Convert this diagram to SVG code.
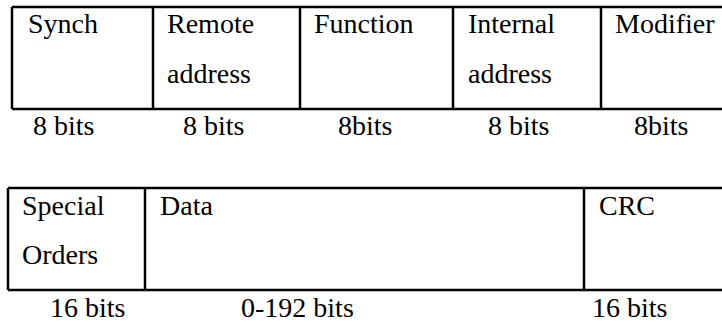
<svg xmlns="http://www.w3.org/2000/svg" width="722" height="324" viewBox="0 0 722 324">
  <style>
    .rule { stroke: #000; stroke-width: 2.5; fill: none; }
  </style>
  <rect width="722" height="324" fill="#fff"/>

  <!-- header frame: 8-bit fields -->
  <g id="header-frame">
    <g id="grid-top">
      <line class="rule" x1="12" y1="7" x2="722" y2="7"/>
      <line class="rule" x1="12" y1="109" x2="722" y2="109"/>
      <line class="rule" x1="12" y1="7" x2="12" y2="109"/>
      <line class="rule" x1="153" y1="7" x2="153" y2="109"/>
      <line class="rule" x1="300" y1="7" x2="300" y2="109"/>
      <line class="rule" x1="453" y1="7" x2="453" y2="109"/>
      <line class="rule" x1="601" y1="7" x2="601" y2="109"/>
    </g>
    <g id="synch">
      <text x="28" y="33" font-family="Liberation Serif" font-size="28">Synch</text>
      <text x="33" y="135" font-family="Liberation Serif" font-size="28">8 bits</text>
    </g>
    <g id="remote-address">
      <text x="167" y="33" font-family="Liberation Serif" font-size="28">Remote</text>
      <text x="167" y="83" font-family="Liberation Serif" font-size="28">address</text>
      <text x="183" y="135" font-family="Liberation Serif" font-size="28">8 bits</text>
    </g>
    <g id="function">
      <text x="314" y="33" font-family="Liberation Serif" font-size="28">Function</text>
      <text x="338" y="135" font-family="Liberation Serif" font-size="28">8bits</text>
    </g>
    <g id="internal-address">
      <text x="468" y="33" font-family="Liberation Serif" font-size="28">Internal</text>
      <text x="468" y="83" font-family="Liberation Serif" font-size="28">address</text>
      <text x="488" y="135" font-family="Liberation Serif" font-size="28">8 bits</text>
    </g>
    <g id="modifier">
      <text x="615" y="33" font-family="Liberation Serif" font-size="28">Modifier</text>
      <text x="634" y="135" font-family="Liberation Serif" font-size="28">8bits</text>
    </g>
  </g>

  <!-- payload frame -->
  <g id="payload-frame">
    <g id="grid-bottom">
      <line class="rule" x1="8" y1="188" x2="722" y2="188"/>
      <line class="rule" x1="8" y1="290" x2="722" y2="290"/>
      <line class="rule" x1="8" y1="188" x2="8" y2="290"/>
      <line class="rule" x1="145" y1="188" x2="145" y2="290"/>
      <line class="rule" x1="584" y1="188" x2="584" y2="290"/>
    </g>
    <g id="special-orders">
      <text x="22" y="215" font-family="Liberation Serif" font-size="28">Special</text>
      <text x="22" y="264" font-family="Liberation Serif" font-size="28">Orders</text>
      <text x="50" y="317" font-family="Liberation Serif" font-size="28">16 bits</text>
    </g>
    <g id="data">
      <text x="160" y="215" font-family="Liberation Serif" font-size="28">Data</text>
      <text x="241" y="317" font-family="Liberation Serif" font-size="28">0-192 bits</text>
    </g>
    <g id="crc">
      <text x="599" y="215" font-family="Liberation Serif" font-size="28">CRC</text>
      <text x="592" y="317" font-family="Liberation Serif" font-size="28">16 bits</text>
    </g>
  </g>
</svg>
